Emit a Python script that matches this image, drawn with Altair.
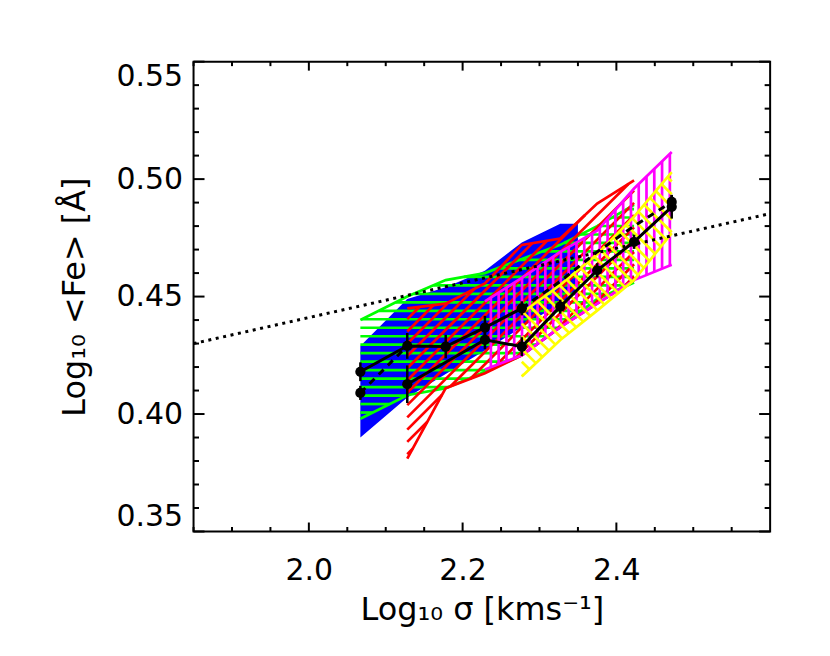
import math
import altair as alt
import pandas as pd

# ---------------- data ----------------
X_DOMAIN = [1.85, 2.60]
Y_DOMAIN = [0.35, 0.55]
W, H = 578, 471

# shaded bands (x, upper, lower)
blue_x = [2.067, 2.128, 2.178, 2.229, 2.277, 2.327, 2.350]
blue_hi = [0.429, 0.449, 0.454, 0.461, 0.473, 0.481, 0.481]
blue_lo = [0.390, 0.407, 0.417, 0.427, 0.437, 0.447, 0.452]

green_x = [2.067, 2.128, 2.178, 2.229, 2.277, 2.327, 2.375, 2.423]
green_hi = [0.440, 0.450, 0.457, 0.460, 0.466, 0.472, 0.480, 0.489]
green_lo = [0.398, 0.408, 0.411, 0.418, 0.425, 0.437, 0.449, 0.456]

red_x = [2.128, 2.178, 2.229, 2.277, 2.327, 2.375, 2.423]
red_hi = [0.445, 0.447, 0.4556, 0.472, 0.4747, 0.4896, 0.4995]
red_lo = [0.381, 0.411, 0.4174, 0.425, 0.437, 0.447, 0.457]

mag_x = [2.229, 2.277, 2.327, 2.375, 2.423, 2.472]
mag_hi = [0.448, 0.458, 0.469, 0.478, 0.496, 0.5115]
mag_lo = [0.419, 0.425, 0.437, 0.447, 0.457, 0.4635]

yel_x = [2.277, 2.327, 2.375, 2.423, 2.472]
yel_hi = [0.443, 0.455, 0.468, 0.484, 0.503]
yel_lo = [0.416, 0.4315, 0.444, 0.457, 0.477]

# black measurements
s1_x = [2.067, 2.128, 2.178, 2.229, 2.277]
s1_y = [0.418, 0.429, 0.4287, 0.4368, 0.445]
s2_x = [2.128, 2.229, 2.277, 2.327, 2.375, 2.423, 2.472]
s2_y = [0.4127, 0.4316, 0.4287, 0.4457, 0.4612, 0.4733, 0.4882]
d1_x = [2.067, 2.128]
d1_y = [0.409, 0.429]
d2_x = [2.277, 2.327, 2.375, 2.423, 2.472]
d2_y = [0.445, 0.4565, 0.469, 0.480, 0.4903]

dot_x = [2.067, 2.067, 2.128, 2.128, 2.178, 2.229, 2.229, 2.277, 2.277, 2.327, 2.375, 2.423, 2.472, 2.472]
dot_y = [0.418, 0.409, 0.429, 0.4127, 0.4287, 0.4368, 0.4316, 0.445, 0.4287, 0.4457, 0.4612, 0.4733, 0.4903, 0.4882]
dot_err = [0.004, 0.003, 0.0055, 0.008, 0.005, 0.005, 0.004, 0.003, 0.004, 0.003, 0.003, 0.003, 0.003, 0.005]

# dotted reference relation
ref_x = [1.85, 2.60]
ref_y = [0.430, 0.4853]

# axis ticks
x_major = [2.0, 2.2, 2.4]
x_minor = [1.85, 1.90, 1.95, 2.05, 2.10, 2.15, 2.25, 2.30, 2.35, 2.45, 2.50, 2.55]
y_major = [0.35, 0.40, 0.45, 0.50, 0.55]
y_minor = [0.36, 0.37, 0.38, 0.39, 0.41, 0.42, 0.43, 0.44, 0.46, 0.47, 0.48, 0.49,
           0.51, 0.52, 0.53, 0.54]

FONT = "DejaVu Sans"
LW = 2.7

# ---------------- helpers ----------------
SX = W / (X_DOMAIN[1] - X_DOMAIN[0])
SY = H / (Y_DOMAIN[1] - Y_DOMAIN[0])


def hatch(xs_, hi, lo, angle_deg, spacing_px, phase=0.0):
    """Segments filling the band polygon with parallel lines (pixel-space angle)."""
    poly = [(x * SX, y * SY) for x, y in zip(xs_, hi)] + \
           [(x * SX, y * SY) for x, y in zip(xs_[::-1], lo[::-1])]
    th = math.radians(angle_deg)
    d = (math.cos(th), math.sin(th))
    n = (-math.sin(th), math.cos(th))
    proj = [p[0] * n[0] + p[1] * n[1] for p in poly]
    kmin = math.ceil((min(proj) - phase) / spacing_px)
    kmax = math.floor((max(proj) - phase) / spacing_px)
    rows = []
    m = len(poly)
    for k in range(kmin, kmax + 1):
        c = k * spacing_px + phase
        pts = []
        for i in range(m):
            p1, p2 = poly[i], poly[(i + 1) % m]
            a = proj[i] - c
            b = proj[(i + 1) % m] - c
            if (a < 0) != (b < 0):
                t = a / (a - b)
                px = p1[0] + t * (p2[0] - p1[0])
                py = p1[1] + t * (p2[1] - p1[1])
                pts.append((px * d[0] + py * d[1], px, py))
        pts.sort()
        for j in range(0, len(pts) - 1, 2):
            rows.append({"x": pts[j][1] / SX, "y": pts[j][2] / SY,
                         "x2": pts[j + 1][1] / SX, "y2": pts[j + 1][2] / SY})
    return pd.DataFrame(rows)


xs = alt.Scale(domain=X_DOMAIN, nice=False, zero=False)
ys = alt.Scale(domain=Y_DOMAIN, nice=False, zero=False)

x_axis = alt.Axis(values=x_major, format=".1f", ticks=False, domain=False, grid=False,
                  labelFont=FONT, labelFontSize=30, labelColor="black", labelPadding=24,
                  labelFlush=False,
                  title="Log₁₀ σ  [kms⁻¹]", titleFont=FONT, titleFontSize=32,
                  titleFontWeight="normal", titleColor="black",
                  titleBaseline="alphabetic", titleY=88)
y_axis = alt.Axis(values=y_major, format=".2f", ticks=False, domain=False, grid=False,
                  labelFont=FONT, labelFontSize=30, labelColor="black", labelPadding=11,
                  labelFlush=True,
                  title="Log₁₀ <Fe>  [Å]", titleFont=FONT, titleFontSize=32,
                  titleFontWeight="normal", titleColor="black",
                  titleBaseline="alphabetic", titleX=-109, titleY=H / 2, titleAngle=270)


def X(field):
    return alt.X(field, scale=xs, axis=x_axis)


def Y(field):
    return alt.Y(field, scale=ys, axis=y_axis)


def band_outline(xv, hi, lo, color):
    df = pd.DataFrame({"x": xv + xv, "y": hi + lo,
                       "edge": ["hi"] * len(xv) + ["lo"] * len(xv)})
    return alt.Chart(df).mark_line(color=color, strokeWidth=LW, clip=True).encode(
        x=X("x:Q"), y=Y("y:Q"), detail="edge:N", order="x:Q")


def band_hatch(xv, hi, lo, angle, spacing, color):
    df = hatch(xv, hi, lo, angle, spacing)
    return alt.Chart(df).mark_rule(color=color, strokeWidth=LW, clip=True).encode(
        x=X("x:Q"), y=Y("y:Q"), x2="x2:Q", y2="y2:Q")


blue_df = pd.DataFrame({"x": blue_x, "hi": blue_hi, "lo": blue_lo})
blue = alt.Chart(blue_df).mark_area(color="#0000FF", opacity=1, clip=True).encode(
    x=X("x:Q"), y=Y("hi:Q"), y2="lo:Q")

layers = [blue]
layers += [band_hatch(green_x, green_hi, green_lo, 0, 8.5, "#00FF00"),
           band_outline(green_x, green_hi, green_lo, "#00FF00")]
layers += [band_hatch(red_x, red_hi, red_lo, 45, 8.7, "#FF0000"),
           band_outline(red_x, red_hi, red_lo, "#FF0000")]
layers += [band_hatch(mag_x, mag_hi, mag_lo, 90, 7.8, "#FF00FF"),
           band_outline(mag_x, mag_hi, mag_lo, "#FF00FF")]
layers += [band_hatch(yel_x, yel_hi, yel_lo, -45, 9, "#FFFF00"),
           band_outline(yel_x, yel_hi, yel_lo, "#FFFF00")]

ref = alt.Chart(pd.DataFrame({"x": ref_x, "y": ref_y})).mark_line(
    color="black", strokeWidth=3, strokeDash=[3, 4.6], clip=True).encode(
    x=X("x:Q"), y=Y("y:Q"))
layers.append(ref)


def black_line(xv, yv, dash=None):
    kw = dict(color="black", strokeWidth=3, clip=True)
    if dash:
        kw["strokeDash"] = dash
    return alt.Chart(pd.DataFrame({"x": xv, "y": yv})).mark_line(**kw).encode(
        x=X("x:Q"), y=Y("y:Q"))


layers += [black_line(s1_x, s1_y), black_line(s2_x, s2_y),
           black_line(d1_x, d1_y, [7, 6]), black_line(d2_x, d2_y, [7, 6])]

dots_df = pd.DataFrame({"x": dot_x, "y": dot_y,
                        "lo": [a - b for a, b in zip(dot_y, dot_err)],
                        "hi": [a + b for a, b in zip(dot_y, dot_err)]})
err = alt.Chart(dots_df).mark_rule(color="black", strokeWidth=2.5).encode(
    x=X("x:Q"), y=Y("lo:Q"), y2="hi:Q")
dots = alt.Chart(dots_df).mark_circle(color="black", size=105, opacity=1).encode(
    x=X("x:Q"), y=Y("y:Q"))
layers += [err, dots]


# inward ticks on all four sides
def xticks(vals, length):
    df = pd.DataFrame({"v": vals})
    bot = alt.Chart(df).mark_rule(color="black", strokeWidth=2).encode(
        x=X("v:Q"), y=alt.value(H), y2=alt.value(H - length))
    top = alt.Chart(df).mark_rule(color="black", strokeWidth=2).encode(
        x=X("v:Q"), y=alt.value(0), y2=alt.value(length))
    return [bot, top]


def yticks(vals, length):
    df = pd.DataFrame({"v": vals})
    left = alt.Chart(df).mark_rule(color="black", strokeWidth=2).encode(
        y=Y("v:Q"), x=alt.value(0), x2=alt.value(length))
    right = alt.Chart(df).mark_rule(color="black", strokeWidth=2).encode(
        y=Y("v:Q"), x=alt.value(W), x2=alt.value(W - length))
    return [left, right]


layers += xticks(x_major, 9) + xticks(x_minor, 4.5) + yticks(y_major, 11) + yticks(y_minor, 5.5)

chart = alt.layer(*layers).properties(
    width=W, height=H,
    autosize=alt.AutoSizeParams(type="none"),
    padding={"left": 186, "top": 53, "right": 52, "bottom": 110},
    background="white",
).configure_view(stroke="black", strokeWidth=2)

chart.save("out.html", embed_options={"renderer": "svg", "actions": False})
